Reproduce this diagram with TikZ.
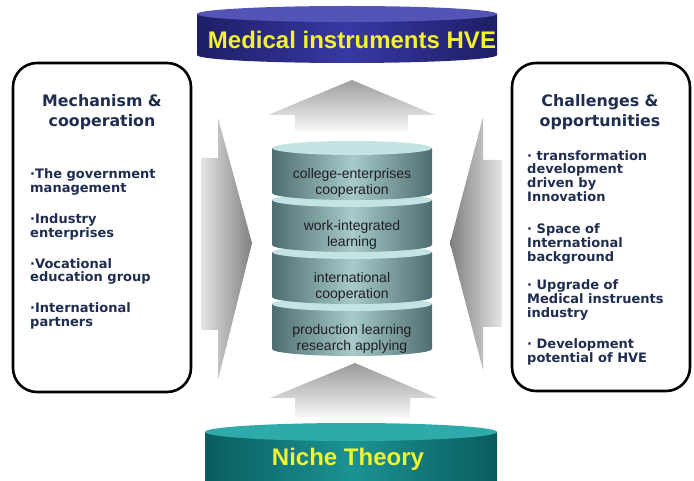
\documentclass[tikz,border=0pt]{standalone}
\usepackage{fontspec}
\setmainfont{Liberation Sans}
\newfontfamily\verdfont{DejaVu Sans}
\usepackage{tikz}
\usetikzlibrary{positioning}
\definecolor{navytxt}{HTML}{1F2D4F}
\definecolor{hveyellow}{HTML}{F2F230}
\definecolor{navydark}{HTML}{1E1E66}
\definecolor{navymid}{HTML}{3838A4}
\definecolor{navytop}{HTML}{5454B6}
\definecolor{tealdark}{HTML}{0A5C5E}
\definecolor{tealmid}{HTML}{1A9394}
\definecolor{tealtop}{HTML}{2EAAAA}
\definecolor{stackdark}{HTML}{4E6D70}
\definecolor{stacklight}{HTML}{A8CACA}
\definecolor{stacktop}{HTML}{C4E3E3}

\begin{document}
\begin{tikzpicture}[x=1pt,y=-1pt,
    boxline/.style={line width=2.6pt,rounded corners=24},
    boxtitle/.style={font=\verdfont\bfseries\fontsize{15.8}{20}\selectfont,text=navytxt,align=center},
    boxitem/.style={font=\verdfont\bfseries\fontsize{13}{13.8}\selectfont,text=navytxt,align=left,anchor=base west,inner sep=0},
    disctext/.style={font=\bfseries\fontsize{24}{26}\selectfont,text=hveyellow},
    layertext/.style={font=\fontsize{14}{16.5}\selectfont,text=black!88,align=center}]
    \useasboundingbox (0,0) rectangle (694,481);

    % grey arrows
    \shade[top color=black!38,bottom color=black!3] (352,80) -- (435,115) -- (408,115) -- (408,131) -- (295,131) -- (295,115) -- (268,115) -- cycle;
    \shade[top color=black!40,bottom color=black!3] (355,363) -- (437,398) -- (410,398) -- (410,417) -- (295,417) -- (295,398) -- (270,398) -- cycle;
    \shade[left color=black!10,right color=black!50] (201,158) -- (218,158) -- (218,118) -- (252,243) -- (218,380) -- (218,330) -- (201,330) -- cycle;
    \shade[left color=black!50,right color=black!10] (502,160) -- (483,160) -- (483,117) -- (450,243) -- (483,370) -- (483,327) -- (502,327) -- cycle;

    % discs
    \shade[left color=navydark,right color=navydark,middle color=navymid] (197,14) -- (197,55) arc[start angle=180,end angle=0,x radius=150,y radius=8] -- (497,14) -- cycle;
    \fill[navytop] (347,14) ellipse (150 and 8);
    \node[disctext] (hve) at (352,40) {Medical instruments HVE};

    \shade[left color=tealdark,right color=tealdark,middle color=tealmid] (205,432) -- (205,490) -- (497,490) -- (497,432) -- cycle;
    \fill[tealtop] (351,432) ellipse (146 and 9);
    \node[disctext] (niche) at (348,459) {Niche Theory};

    % stack
    \foreach \c/\t [count=\i] in {304/{production learning\\research applying},
                                 252/{international\\cooperation},
                                 200/{work-integrated\\learning},
                                 148/{college-enterprises\\cooperation}}
    {
        \shade[left color=stackdark,right color=stackdark,middle color=stacklight] (272,\c) -- (272,\c+45) arc[start angle=180,end angle=0,x radius=80,y radius=7] -- (432,\c) -- cycle;
        \fill[stacktop] (352,\c) ellipse (80 and 7);
        \node[layertext] (layer\i) at (352,\c+35) {\t};
    }

    % side boxes
    \draw[boxline] (13,63) rectangle (191,392);
    \draw[boxline] (512,63) rectangle (690,391);

    \node[boxtitle] (mech) at (102,112) {Mechanism \&\\cooperation};
    \node[boxitem] (gov) at (30,192.5) {·The government\\management};
    \node[boxitem] (ind) at (30,237.5) {·Industry\\enterprises};
    \node[boxitem] (voc) at (30,282) {·Vocational\\education group};
    \node[boxitem] (intl) at (30,326.5) {·International\\partners};

    \node[boxtitle] (chal) at (600,112) {Challenges \&\\opportunities};
    \node[boxitem] (trans) at (527,201.5) {· transformation\\development\\driven by\\Innovation};
    \node[boxitem] (space) at (527,261.5) {· Space of\\International\\background};
    \node[boxitem] (upg) at (527,317.5) {· Upgrade of\\Medical instruents\\industry};
    \node[boxitem] (dev) at (527,362.5) {· Development\\potential of HVE};
\end{tikzpicture}
\end{document}
